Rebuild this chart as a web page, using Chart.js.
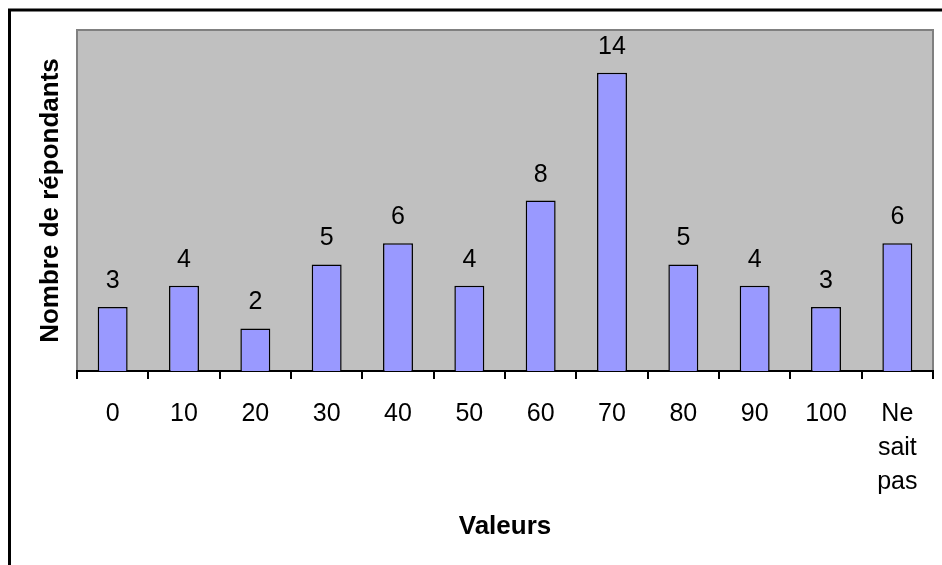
<!DOCTYPE html>
<html>
<head>
<meta charset="utf-8">
<script src="https://cdn.jsdelivr.net/npm/chart.js@4"></script>
<style>
  html, body { margin: 0; padding: 0; background: #ffffff; }
  canvas { display: block; }
</style>
</head>
<body>
<canvas id="c" width="942" height="565"></canvas>
<script>
// Catégories de valeurs et nombre de répondants
const categories = ['0', '10', '20', '30', '40', '50', '60', '70', '80', '90', '100', ['Ne', 'sait', 'pas']];
const respondents = [3, 4, 2, 5, 6, 4, 8, 14, 5, 4, 3, 6];
const yTitle = 'Nombre de répondants';
const xTitle = 'Valeurs';

const FONT = '"Liberation Sans", Arial, sans-serif';

// Cadre extérieur et fond gris de la zone de tracé
const frame = {
  id: 'frame',
  beforeDraw(chart) {
    const ctx = chart.ctx;
    const a = chart.chartArea;
    ctx.save();
    ctx.fillStyle = '#ffffff';
    ctx.fillRect(0, 0, chart.width, chart.height);
    ctx.strokeStyle = '#000000';
    ctx.lineWidth = 3;
    ctx.strokeRect(9.5, 10, chart.width + 20, chart.height + 20);
    ctx.fillStyle = '#C0C0C0';
    ctx.fillRect(a.left, a.top, a.right - a.left, a.bottom - a.top);
    ctx.strokeStyle = '#808080';
    ctx.lineWidth = 2;
    ctx.strokeRect(a.left, a.top, a.right - a.left, a.bottom - a.top);
    ctx.restore();
  }
};

// Étiquettes de valeur au-dessus des barres
const valueLabels = {
  id: 'valueLabels',
  afterDatasetsDraw(chart) {
    const ctx = chart.ctx;
    const meta = chart.getDatasetMeta(0);
    ctx.save();
    ctx.font = '25px ' + FONT;
    ctx.fillStyle = '#000000';
    ctx.textAlign = 'center';
    ctx.textBaseline = 'alphabetic';
    meta.data.forEach((bar, i) => {
      ctx.fillText(String(respondents[i]), bar.x, bar.y - 19);
    });
    ctx.restore();
  }
};

new Chart(document.getElementById('c'), {
  type: 'bar',
  data: {
    labels: categories,
    datasets: [{
      data: respondents,
      backgroundColor: '#9999FF',
      borderColor: '#000000',
      borderWidth: 1.5,
      barPercentage: 0.42,
      categoryPercentage: 1.0
    }]
  },
  options: {
    responsive: false,
    animation: false,
    devicePixelRatio: 1,
    layout: { padding: { left: 0, top: 30, right: 9, bottom: 0 } },
    plugins: {
      legend: { display: false },
      tooltip: { enabled: false }
    },
    scales: {
      x: {
        offset: true,
        grid: {
          display: true,
          offset: true,
          drawOnChartArea: false,
          drawTicks: true,
          tickLength: 8,
          color: '#000000',
          lineWidth: 2
        },
        border: { display: true, color: '#000000', width: 2 },
        ticks: {
          color: '#000000',
          font: { family: FONT, size: 25, lineHeight: 1.36 },
          padding: 18,
          maxRotation: 0,
          autoSkip: false
        },
        title: {
          display: true,
          text: xTitle,
          color: '#000000',
          font: { family: FONT, size: 26, weight: 'bold' },
          padding: { top: 0, bottom: 23 }
        },
        afterFit(scale) { scale.height = 565 - 371; }
      },
      y: {
        min: 0,
        max: 16,
        grid: { display: false, drawTicks: false },
        border: { display: false },
        ticks: { display: false },
        title: {
          display: true,
          text: yTitle,
          color: '#000000',
          font: { family: FONT, size: 26, weight: 'bold' },
          padding: { top: 35, bottom: 0 }
        },
        afterFit(scale) { scale.width = 77; }
      }
    }
  },
  plugins: [frame, valueLabels]
});
</script>
</body>
</html>
